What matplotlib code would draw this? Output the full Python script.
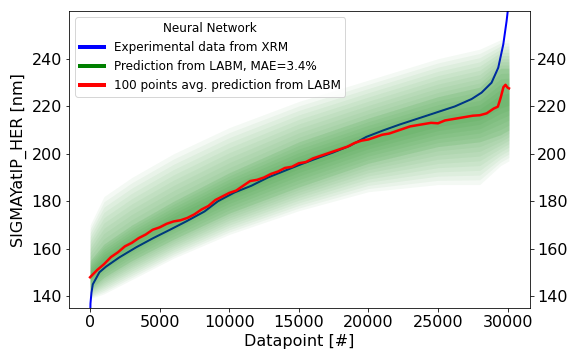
import matplotlib
matplotlib.use("Agg")
import matplotlib.pyplot as plt
from matplotlib.lines import Line2D
import numpy as np

# Experimental (sorted) data from XRM
exp_x = [0, 30, 100, 194, 670, 1150, 2110, 3310, 4510, 5705, 6906, 8225, 9187,
         10381, 11583, 12784, 13978, 15180, 16137, 17460, 18654, 19856, 21058,
         22252, 23453, 24654, 25014, 26209, 27410, 28129, 28849, 29329, 29690,
         29928, 30050, 30100]
exp_y = [128, 137, 141.5, 145.0, 150.1, 152.5, 156.4, 160.6, 164.4, 167.9, 171.5,
         175.7, 180.0, 183.7, 186.5, 190.0, 192.8, 195.6, 197.7, 200.5, 203.3,
         207.1, 209.8, 212.3, 214.6, 216.9, 217.6, 219.9, 223.0, 225.7, 229.9,
         236.2, 246.0, 255.8, 262.0, 268.0]

# 100 points averaged prediction
avg_x = [0, 500, 1000, 1500, 2000, 2500, 3000, 3500, 4000, 4500, 5000, 5500, 6000,
         6500, 7000, 7500, 8000, 8500, 9000, 9500, 10000, 10500, 11000, 11500,
         12000, 12500, 13000, 13500, 14000, 14500, 15000, 15500, 16000, 16500,
         17000, 17500, 18000, 18500, 19000, 19500, 20000, 20500, 21000, 21500,
         22000, 22500, 23000, 23500, 24000, 24500, 25000, 25500, 26000, 26500,
         27000, 27500, 28000, 28500, 29000, 29300, 29500, 29700, 29850, 30000, 30100]
avg_y = [148.0, 151.0, 153.5, 156.5, 158.5, 161.0, 162.5, 164.5, 166.0, 168.0, 169.0,
         170.5, 171.5, 172.0, 173.0, 174.5, 176.5, 178.0, 180.5, 182.0, 183.5, 184.5,
         186.5, 188.5, 189.0, 190.0, 191.5, 192.5, 194.0, 194.5, 196.0, 196.5, 198.0,
         199.0, 200.0, 201.0, 202.0, 203.0, 204.5, 205.5, 206.0, 207.0, 208.0, 208.5,
         209.5, 210.5, 211.5, 212.0, 212.5, 213.0, 212.8, 214.0, 214.5, 215.0, 215.5,
         216.0, 216.2, 217.0, 219.0, 219.8, 223.5, 228.0, 229.0, 227.8, 227.5]

# Envelope of the noisy per-point prediction (outer faint / dense core)
band_x = [0, 1000, 3000, 6000, 10000, 15000, 20000, 25000, 28000, 29500, 30100]
outer_lo = [139, 141, 147, 156, 166, 176, 184, 187, 187, 195, 197]
core_lo = [143, 148, 155, 164, 175, 186, 196, 203, 205, 208, 210]
core_hi = [155, 162, 170, 180, 192, 205, 215, 224, 228, 236, 236]
outer_hi = [170, 182, 190, 200, 211, 222, 231, 240, 244, 248, 248]

fig = plt.figure(figsize=(8, 5), dpi=72)
ax = fig.add_axes([0.12, 0.144, 0.80, 0.825])

ax.plot(exp_x, exp_y, color="blue", lw=2, zorder=2)

olo, clo, chi, ohi = map(np.asarray, (outer_lo, core_lo, core_hi, outer_hi))
cmid = (clo + chi) / 2
# soft gradient: outer faint layers
for f in np.linspace(1.0, 0.0, 10):
    lo = clo + f * (olo - clo)
    hi = chi + f * (ohi - chi)
    ax.fill_between(band_x, lo, hi, color="green", alpha=0.045, lw=0, zorder=3)
# denser core layers
for g in np.linspace(1.0, 0.2, 6):
    ax.fill_between(band_x, cmid - g * (cmid - clo), cmid + g * (chi - cmid),
                    color="green", alpha=0.05, lw=0, zorder=3)

ax.plot(avg_x, avg_y, color="red", lw=2.5, zorder=4)

ax.set_ylim(135, 260)
ax.set_xticks([0, 5000, 10000, 15000, 20000, 25000, 30000])
ax.set_yticks([140, 160, 180, 200, 220, 240])
ax.tick_params(labelsize=16, right=True, labelright=True)
ax.set_xlabel("Datapoint [#]", fontsize=16)
ax.set_ylabel("SIGMAYatIP_HER [nm]", fontsize=16)

handles = [Line2D([], [], color="blue", lw=4),
           Line2D([], [], color="green", lw=4),
           Line2D([], [], color="red", lw=4)]
labels = ["Experimental data from XRM", "Prediction from LABM, MAE=3.4%",
          "100 points avg. prediction from LABM"]
leg = ax.legend(handles, labels, title="Neural Network", loc="upper left",
                fontsize=12, title_fontsize=12)
leg.set_zorder(10)

fig.savefig("out.png", dpi=72)
